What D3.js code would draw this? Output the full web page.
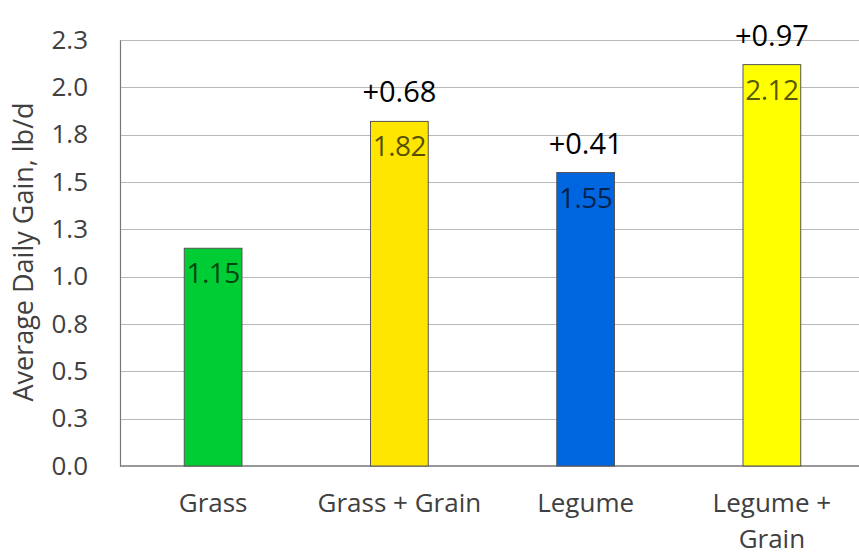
<!DOCTYPE html>
<html>
<head>
<meta charset="utf-8">
<script src="https://cdn.jsdelivr.net/npm/d3@7"></script>
<style>
  html, body { margin: 0; padding: 0; background: #fff; }
  svg { display: block; font-family: "Open Sans", "Noto Sans", sans-serif; }
</style>
</head>
<body>
<svg id="chart" width="859" height="556"></svg>
<script>
// Average daily gain by forage type, with and without grain
const categories = [["Grass"], ["Grass + Grain"], ["Legume"], ["Legume +", "Grain"]];
const gains = [1.15, 1.82, 1.55, 2.12];
const diffs = ["", "+0.68", "+0.41", "+0.97"];
const barColors = ["#00cc33", "#ffe600", "#0066e0", "#ffff00"];
const yTicks = [0, 0.25, 0.5, 0.75, 1.0, 1.25, 1.5, 1.75, 2.0, 2.25];

const svg = d3.select("#chart");
const margin = { left: 120, top: 40, bottom: 466, right: 865 };

const x = d3.scaleBand()
  .domain(d3.range(categories.length))
  .range([margin.left, margin.right])
  .paddingInner(0.69)
  .paddingOuter(0.345);

const y = d3.scaleLinear().domain([0, 2.25]).range([margin.bottom, margin.top]);

// horizontal gridlines
svg.append("g")
  .selectAll("line")
  .data(yTicks.slice(1))
  .join("line")
  .attr("x1", margin.left).attr("x2", 859)
  .attr("y1", d => Math.round(y(d)) + 0.5).attr("y2", d => Math.round(y(d)) + 0.5)
  .attr("stroke", "#b8b8b8").attr("stroke-width", 1);

// y axis
const yAxis = svg.append("g")
  .attr("transform", `translate(${margin.left},0)`)
  .call(d3.axisLeft(y).tickValues(yTicks).tickFormat(d3.format(".1f")).tickSize(0).tickPadding(32));
yAxis.select(".domain").attr("stroke", "#777").attr("stroke-width", 1.2);
yAxis.selectAll("text").attr("font-size", 26).attr("fill", "#404040")
  .attr("font-family", "'Open Sans', sans-serif");

// baseline
svg.append("line")
  .attr("x1", margin.left).attr("x2", 859)
  .attr("y1", y(0)).attr("y2", y(0))
  .attr("stroke", "#777").attr("stroke-width", 1.5);

// bars
svg.append("g")
  .selectAll("rect")
  .data(gains)
  .join("rect")
  .attr("x", (d, i) => x(i))
  .attr("width", x.bandwidth())
  .attr("y", d => y(d))
  .attr("height", d => y(0) - y(d))
  .attr("fill", (d, i) => barColors[i])
  .attr("stroke", "#555")
  .attr("stroke-width", 1);

// value labels inside bar tops
svg.append("g")
  .selectAll("text")
  .data(gains)
  .join("text")
  .attr("x", (d, i) => x(i) + x.bandwidth() / 2)
  .attr("y", d => y(d) + 35)
  .attr("text-anchor", "middle")
  .attr("font-size", 28)
  .attr("letter-spacing", -0.5)
  .attr("fill", "rgba(0,0,0,0.68)")
  .text(d => d.toFixed(2));

// gain over grass alone, above bars
svg.append("g")
  .selectAll("text")
  .data(gains)
  .join("text")
  .attr("x", (d, i) => x(i) + x.bandwidth() / 2)
  .attr("y", d => y(d) - 19)
  .attr("text-anchor", "middle")
  .attr("font-size", 29)
  .attr("fill", "#000")
  .text((d, i) => diffs[i]);

// category labels
const catG = svg.append("g")
  .selectAll("text")
  .data(categories)
  .join("text")
  .attr("x", (d, i) => x(i) + x.bandwidth() / 2)
  .attr("y", 512)
  .attr("text-anchor", "middle")
  .attr("font-size", 26)
  .attr("fill", "#404040");
catG.selectAll("tspan")
  .data(d => d)
  .join("tspan")
  .attr("x", function () { return d3.select(this.parentNode).attr("x"); })
  .attr("dy", (d, j) => j === 0 ? 0 : 36)
  .text(d => d);

// y axis title
svg.append("text")
  .attr("transform", `translate(33,252) rotate(-90)`)
  .attr("text-anchor", "middle")
  .attr("font-size", 27)
  .attr("fill", "#404040")
  .text("Average Daily Gain, lb/d");
</script>
</body>
</html>
